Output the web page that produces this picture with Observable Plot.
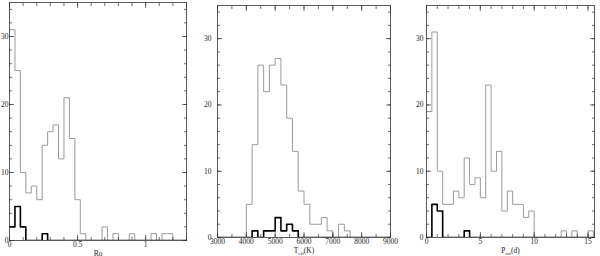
<!DOCTYPE html>
<html><head><meta charset="utf-8">
<script src="https://cdn.jsdelivr.net/npm/d3@7"></script>
<script src="https://cdn.jsdelivr.net/npm/@observablehq/plot@0.6"></script>
<style>
html,body{margin:0;padding:0;background:#fff;}
#wrap{position:relative;width:600px;height:256px;overflow:hidden;background:#fff;}
#wrap svg{position:absolute;left:0;top:0;}
</style></head><body><div id="wrap"></div>
<script>
// ---- Panel 1: Rossby number histogram (bin width 0.04 from 0)
const roBinStart = 0;
const roBinWidth = 0.04;
const roAll = [31, 25, 10, 7, 8, 6, 14, 16, 17, 12, 21, 15, 6, 1, 0, 0, 0, 2, 0, 1, 0, 0, 1, 0, 0, 0, 1, 0, 1, 1, 0, 0, 0, 0];
const roSub = [2, 5, 2, 0, 0, 0, 1, 0, 0, 0, 0, 0, 0, 0, 0, 0, 0, 0, 0, 0, 0, 0, 0, 0, 0, 0, 0, 0, 0, 0, 0, 0, 0, 0];
const roTicks = [0, 0.5, 1];

// ---- Panel 2: Teff histogram (bin width 200 K from 3000 K)
const teffBinStart = 3000;
const teffBinWidth = 200;
const teffAll = [0, 0, 0, 0, 0, 5, 14, 26, 22, 26, 27, 23, 18, 13, 7, 5, 2, 2, 3, 1, 0, 2, 1, 0, 0, 0, 0, 0, 0, 0];
const teffSub = [0, 0, 0, 0, 0, 0, 1, 0, 1, 1, 3, 1, 2, 1, 0, 0, 0, 0, 0, 0, 0, 0, 0, 0, 0, 0, 0, 0, 0, 0];
const teffTicks = [3000, 4000, 5000, 6000, 7000, 8000, 9000];

// ---- Panel 3: rotation period histogram (bin width 0.5 d from 0)
const protBinStart = 0;
const protBinWidth = 0.5;
const protAll = [19, 31, 10, 5, 5, 7, 6, 12, 8, 9, 6, 23, 10, 13, 4, 7, 5, 5, 3, 4, 0, 0, 0, 0, 0, 1, 0, 1, 0, 0, 1, 0, 0];
const protSub = [0, 5, 4, 0, 0, 0, 0, 1, 0, 0, 0, 0, 0, 0, 0, 0, 0, 0, 0, 0, 0, 0, 0, 0, 0, 0, 0, 0, 0, 0, 0, 0, 0];
const protTicks = [0, 5, 10, 15];

const yTicks = [0, 10, 20, 30];

function steps(start, width, counts) {
  const pts = counts.map((c, i) => ({x: start + i * width, y: c}));
  pts.push({x: start + counts.length * width, y: 0});
  return pts;
}

function panel(o) {
  const yMinor = d3.range(0, 35, 2);
  const fmt = d => String(d);
  const ax = "#333";
  const p = Plot.plot({
    width: 600, height: 256,
    marginLeft: o.ml, marginRight: o.mr, marginTop: o.mt, marginBottom: o.mb,
    x: {domain: o.xDomain},
    y: {domain: [0, 35]},
    style: {fontFamily: "'Liberation Serif', 'DejaVu Serif', serif", fontSize: "7.5px", color: "#222", background: "transparent"},
    marks: [
      Plot.line(steps(o.start, o.width, o.all), {x: "x", y: "y", curve: "step-after", stroke: "#9a9a9a", strokeWidth: 1, clip: true}),
      Plot.line(steps(o.start, o.width, o.sub), {x: "x", y: "y", curve: "step-after", stroke: "#000", strokeWidth: 1.6, clip: true}),
      Plot.frame({stroke: ax, strokeWidth: 0.8}),
      Plot.axisY({anchor: "left", ticks: yTicks, tickSize: 0, tickPadding: o.yPad, tickFormat: fmt, label: null}),
      Plot.axisY({anchor: "left", ticks: yTicks, tickSize: -5, fill: "none", stroke: ax, strokeWidth: 0.7}),
      Plot.axisY({anchor: "left", ticks: yMinor, tickSize: -3, fill: "none", stroke: ax, strokeWidth: 0.7}),
      Plot.axisY({anchor: "right", ticks: yTicks, tickSize: -5, fill: "none", stroke: ax, strokeWidth: 0.7}),
      Plot.axisY({anchor: "right", ticks: yMinor, tickSize: -3, fill: "none", stroke: ax, strokeWidth: 0.7}),
      Plot.axisX({anchor: "bottom", ticks: o.xTicks, tickSize: 0, tickPadding: 1, tickFormat: fmt, label: o.label, labelAnchor: "center", labelOffset: o.lo}),
      Plot.axisX({anchor: "bottom", ticks: o.xTicks, tickSize: -5, fill: "none", stroke: ax, strokeWidth: 0.7}),
      Plot.axisX({anchor: "bottom", ticks: o.xMinor, tickSize: -3, fill: "none", stroke: ax, strokeWidth: 0.7}),
      Plot.axisX({anchor: "top", ticks: o.xTicks, tickSize: -5, fill: "none", stroke: ax, strokeWidth: 0.7}),
      Plot.axisX({anchor: "top", ticks: o.xMinor, tickSize: -3, fill: "none", stroke: ax, strokeWidth: 0.7})
    ]
  });
  const t = d3.select(p).select('g[aria-label="x-axis label"] text');
  if (!t.empty()) {
    t.text(null);
    t.append("tspan").text(o.main);
    if (o.subTxt) {
      t.append("tspan").attr("font-size", "5px").attr("dy", "2").text(o.subTxt);
      t.append("tspan").attr("dy", "-2").text(o.rest);
    }
  }
  return p;
}

const wrap = document.getElementById("wrap");
wrap.appendChild(panel({
  ml: 9, mr: 414, mt: 2, mb: 16, xDomain: [0, 1.3],
  start: roBinStart, width: roBinWidth, all: roAll, sub: roSub,
  xTicks: roTicks, xMinor: d3.range(0, 1.31, 0.1), yPad: 1,
  label: "Ro", main: "Ro", lo: 15
}));
wrap.appendChild(panel({
  ml: 217, mr: 210, mt: 5, mb: 19, xDomain: [3000, 9000],
  start: teffBinStart, width: teffBinWidth, all: teffAll, sub: teffSub,
  xTicks: teffTicks, xMinor: d3.range(3000, 9001, 500), yPad: 6,
  label: "Teff(K)", main: "T", subTxt: "eff", rest: "(K)", lo: 15
}));
wrap.appendChild(panel({
  ml: 426, mr: 6, mt: 5, mb: 19, xDomain: [0, 15.6],
  start: protBinStart, width: protBinWidth, all: protAll, sub: protSub,
  xTicks: protTicks, xMinor: d3.range(0, 15.6, 1), yPad: 3,
  label: "Prot(d)", main: "P", subTxt: "rot", rest: "(d)", lo: 15
}));
</script></body></html>
